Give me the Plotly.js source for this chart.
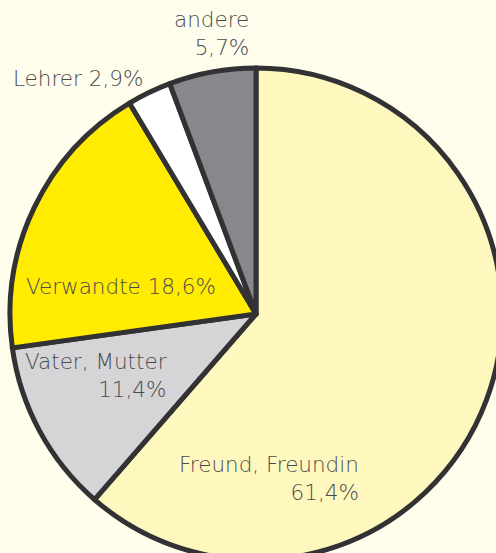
<!DOCTYPE html>
<html>
<head>
<meta charset="utf-8">
<script src="https://cdn.plot.ly/plotly-3.0.1.min.js"></script>
<style>
html, body { margin:0; padding:0; overflow:hidden; background:#FFFEEC; width:496px; height:553px; }
#chart { width:502px; height:560px; }
</style>
</head>
<body>
<div id="chart"></div>
<script>
const labels = ["Freund, Freundin", "Vater, Mutter", "Verwandte", "Lehrer", "andere"];
const values = [61.4, 11.4, 18.6, 2.9, 5.7];
const colors = ["#FFF8BE", "#D5D5D7", "#FFEC00", "#FFFFFF", "#88878C"];

const W = 502, H = 560;
function fmt(v) { return v.toFixed(1).replace('.', ',') + '%'; }

// label layout: [px, py, xanchor, align, twoLines]
const labelPos = [
  [361, 478, 'right', 'right', true],
  [169, 376, 'right', 'right', true],
  [24, 286, 'left', 'left', false],
  [11, 79, 'left', 'left', false],
  [251, 33, 'right', 'right', true]
];

const annotations = labels.map((l, i) => {
  const p = labelPos[i];
  const txt = p[4] ? l + '<br>' + fmt(values[i]) : l + ' ' + fmt(values[i]);
  return {
    xref: 'paper', yref: 'paper',
    x: p[0] / W, y: 1 - p[1] / H,
    xanchor: p[2], yanchor: 'middle', align: p[3],
    text: txt, showarrow: false,
    font: { family: '"DejaVu Sans", sans-serif', weight: 200, size: 21.5, color: '#4A4A4C' }
  };
});

const data = [{
  type: 'pie',
  labels: labels,
  values: values,
  sort: false,
  direction: 'clockwise',
  rotation: 0,
  marker: { colors: colors, line: { color: '#323234', width: 5 } },
  textinfo: 'none',
  hoverinfo: 'none',
  showlegend: false,
  domain: { x: [10 / W, 502 / W], y: [0, 1 - 68 / H] }
}];

const layout = {
  width: W, height: H,
  margin: { l: 0, r: 0, t: 0, b: 0, pad: 0 },
  paper_bgcolor: '#FFFEEC',
  plot_bgcolor: '#FFFEEC',
  showlegend: false,
  annotations: annotations
};

Plotly.newPlot('chart', data, layout, { staticPlot: true, displayModeBar: false });
</script>
</body>
</html>
